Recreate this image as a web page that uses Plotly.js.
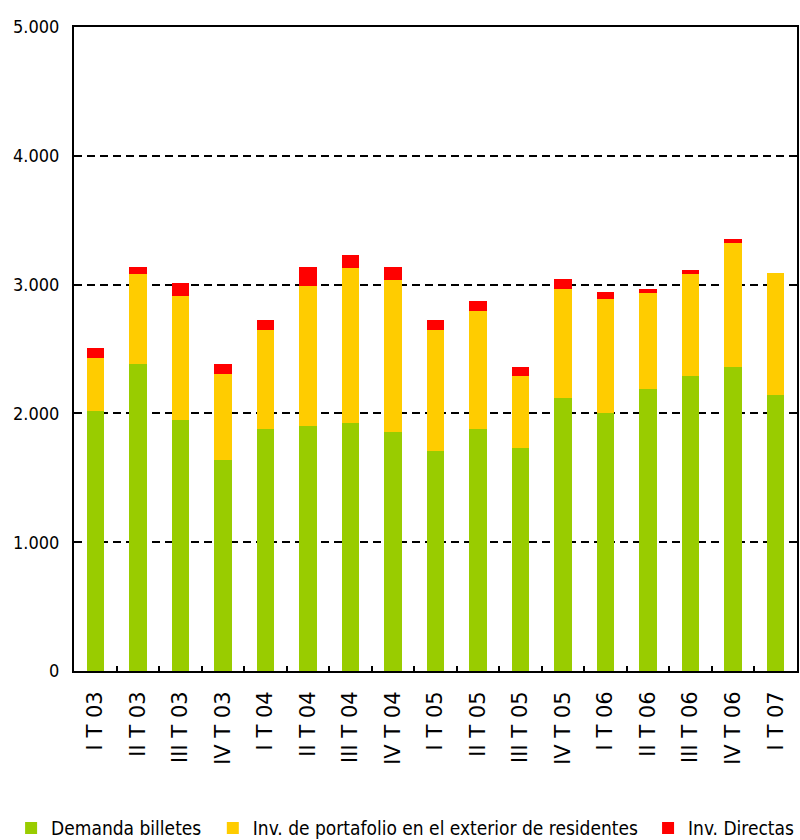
<!DOCTYPE html>
<html>
<head>
<meta charset="utf-8">
<script src="https://cdn.plot.ly/plotly-3.0.1.min.js"></script>
<style>html,body{margin:0;padding:0;background:#fff;}#chart{width:800px;height:840px;}</style>
</head>
<body>
<div id="chart"></div>
<script>
const categories = ["I T 03","II T 03","III T 03","IV T 03","I T 04","II T 04","III T 04","IV T 04","I T 05","II T 05","III T 05","IV T 05","I T 06","II T 06","III T 06","IV T 06","I T 07"];
const demandaBilletes = [2021,2385,1948,1636,1876,1899,1925,1853,1705,1876,1734,2119,2000,2191,2289,2362,2145];
const invPortafolio = [411,698,967,672,773,1088,1207,1183,944,917,553,845,889,747,794,964,943];
const invDirectas = [77,57,98,77,77,147,101,98,77,78,77,77,54,29,33,31,0];
const seriesNames = ["Demanda billetes","Inv. de portafolio en el exterior de residentes","Inv. Directas"];

const narrow = "DejaVu Sans Condensed, Liberation Sans, sans-serif";
const colors = ["#99cc00","#ffcc00","#ff0000"];
const vals = [demandaBilletes, invPortafolio, invDirectas];
const legendIds = ["legend","legend2","legend3"];

const traces = vals.map((v,i)=>({
  type:"bar", x:categories, y:v, name:seriesNames[i],
  marker:{color:colors[i], line:{width:0}},
  width:0.41, legend:legendIds[i], hoverinfo:"y+name"
}));

const legendBase = {orientation:"h", yanchor:"middle", xanchor:"left", y:-0.244,
  font:{family:narrow, size:19, color:"#000"}, bgcolor:"rgba(0,0,0,0)", borderwidth:0, itemwidth:30};

const layout = {
  width:800, height:840,
  margin:{l:74, r:3, t:27, b:169, autoexpand:false},
  paper_bgcolor:"#fff", plot_bgcolor:"#fff",
  barmode:"stack", bargap:0.59,
  separators:",.",
  showlegend:true,
  xaxis:{
    type:"category", showline:true, linecolor:"#000", linewidth:2, mirror:true,
    showgrid:false, zeroline:false,
    ticks:"inside", tickson:"boundaries", ticklen:5, tickwidth:2, tickcolor:"#000",
    tickangle:-90, ticklabelstandoff:10,
    tickfont:{family:"DejaVu Sans, sans-serif", size:21, color:"#000"}
  },
  yaxis:{
    range:[0,5000], dtick:1000, tickformat:",d",
    showline:true, linecolor:"#000", linewidth:2, mirror:true,
    showgrid:true, gridcolor:"#000", gridwidth:2, griddash:"8px,5px",
    zeroline:false, ticks:"", ticklabelstandoff:9,
    tickfont:{family:narrow, size:18, color:"#000"}
  },
  legend:Object.assign({}, legendBase, {x:-0.087}),
  legend2:Object.assign({}, legendBase, {x:0.192}),
  legend3:Object.assign({}, legendBase, {x:0.794})
};

Plotly.newPlot("chart", traces, layout, {displayModeBar:false, staticPlot:true});
</script>
</body>
</html>
